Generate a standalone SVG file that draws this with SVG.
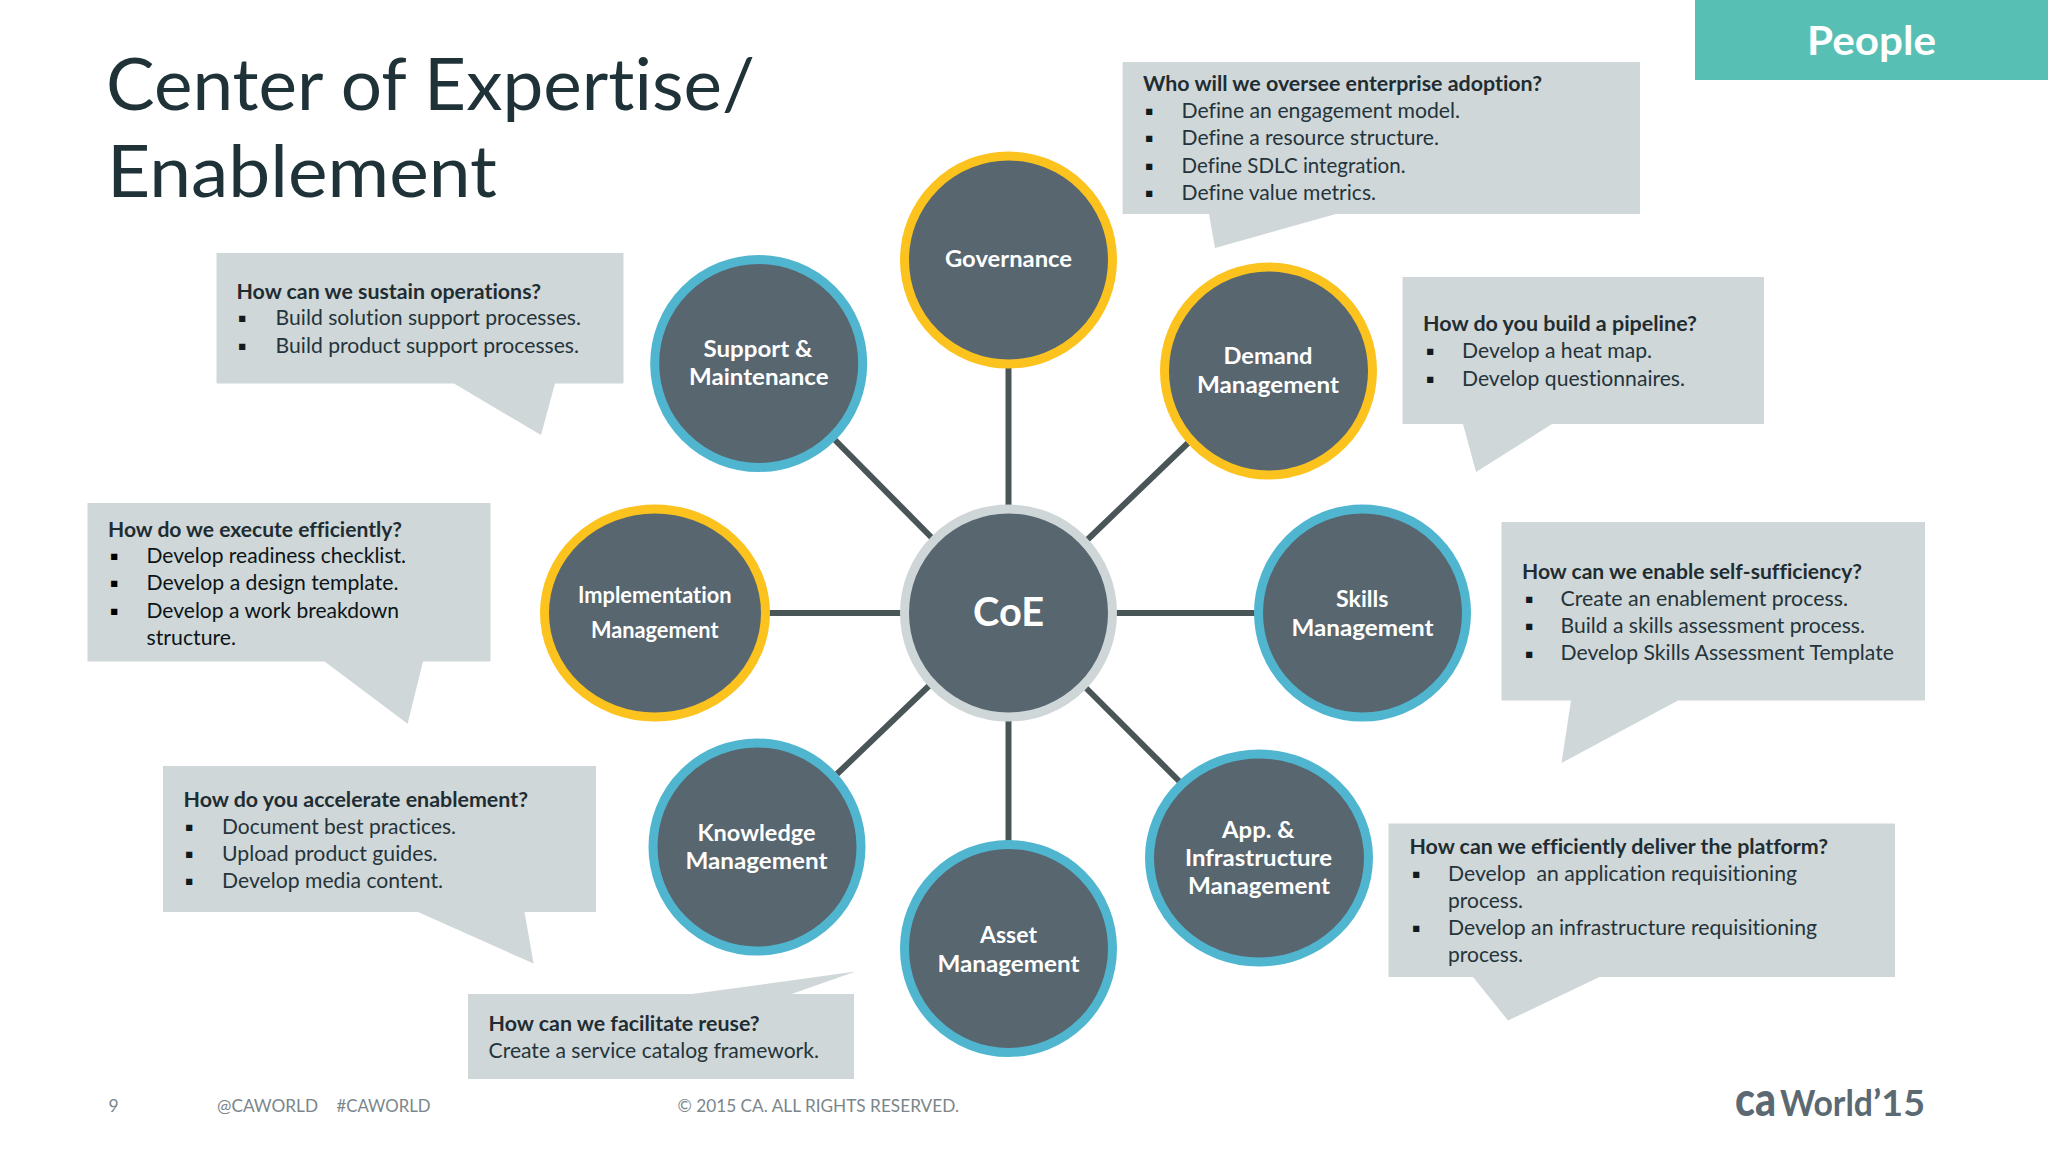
<svg xmlns="http://www.w3.org/2000/svg" width="2048" height="1152" viewBox="0 0 2048 1152">
<style>
text{font-family:"Lato","Open Sans","Liberation Sans",sans-serif;font-variant-ligatures:none}
.c{fill:#cfd7d9}
.h{font-size:20.5px;font-weight:700;fill:#1f2d32;transform:translateY(1px)}
.b{font-size:20.5px;fill:#25343a}
.d{font-size:12.5px;font-family:"DejaVu Sans",sans-serif;fill:#111a1d;transform:translate(2px,-3px)}
.n{fill:#586670;stroke-width:9}
.bl{stroke:#50b6d0}
.ye{stroke:#fcc31e}
.gr{stroke:#ced6d8}
.l{font-size:23px;font-weight:700;fill:#fff;text-anchor:start;transform:translateY(.5px)}
.f{font-size:17.5px;fill:#7b868b}
.k{fill:#5b6a72;font-weight:700}
#connectors line{stroke:#4a5558;stroke-width:6}
</style>
<rect width="2048" height="1152" fill="#fff"/>
<g id="title">
<text x="106" y="110" font-size="71" fill="#1f3238" textLength="649" lengthAdjust="spacingAndGlyphs">Center of Expertise/</text>
<text x="107" y="196.5" font-size="71" fill="#1f3238" textLength="390" lengthAdjust="spacingAndGlyphs">Enablement</text>
</g>
<g id="people">
<rect x="1695" y="0" width="353" height="80" fill="#57bfb3"/>
<text x="1807" y="55" font-size="40" font-weight="700" fill="#fff" textLength="129" lengthAdjust="spacingAndGlyphs">People</text>
</g>
<g id="connectors">
<line x1="1008.5" y1="365" x2="1008.5" y2="507"/>
<line x1="1008.5" y1="719" x2="1008.5" y2="842"/>
<line x1="768" y1="613" x2="906" y2="613"/>
<line x1="1113" y1="613" x2="1256" y2="613"/>
<line x1="835" y1="440" x2="935" y2="541"/>
<line x1="1188" y1="443" x2="1084" y2="543"/>
<line x1="932" y1="683" x2="837" y2="774"/>
<line x1="1083" y1="685" x2="1181" y2="783"/>
</g>
<g id="coe">
<ellipse class="n gr" cx="1008.5" cy="613" rx="104" ry="104"/>
<text x="973" y="625.6" font-size="41" font-weight="700" fill="#fff" textLength="71" lengthAdjust="spacingAndGlyphs">CoE</text>
</g>
<g id="governance">
<ellipse class="n ye" cx="1008.5" cy="260" rx="104" ry="104"/>
<text class="l" x="945" y="266" textLength="127" lengthAdjust="spacingAndGlyphs">Governance</text>
</g>
<g id="demand">
<ellipse class="n ye" cx="1268.5" cy="371" rx="104" ry="104"/>
<text class="l" x="1223.5" y="363.7" textLength="89" lengthAdjust="spacingAndGlyphs">Demand</text>
<text class="l" x="1197" y="392.3" textLength="142" lengthAdjust="spacingAndGlyphs">Management</text>
</g>
<g id="skills">
<ellipse class="n bl" cx="1362.5" cy="613" rx="104" ry="104"/>
<text class="l" x="1336" y="606.5" textLength="52.5" lengthAdjust="spacingAndGlyphs">Skills</text>
<text class="l" x="1291.5" y="635" textLength="142" lengthAdjust="spacingAndGlyphs">Management</text>
</g>
<g id="app">
<ellipse class="n bl" cx="1259" cy="858" rx="109.5" ry="104"/>
<text class="l" x="1222" y="837" textLength="72.5" lengthAdjust="spacingAndGlyphs">App. &amp;</text>
<text class="l" x="1185" y="865.5" textLength="147" lengthAdjust="spacingAndGlyphs">Infrastructure</text>
<text class="l" x="1188" y="893" textLength="142" lengthAdjust="spacingAndGlyphs">Management</text>
</g>
<g id="asset">
<ellipse class="n bl" cx="1008.5" cy="948.5" rx="104" ry="104"/>
<text class="l" x="980" y="942" textLength="57" lengthAdjust="spacingAndGlyphs">Asset</text>
<text class="l" x="937.5" y="971" textLength="142" lengthAdjust="spacingAndGlyphs">Management</text>
</g>
<g id="knowledge">
<ellipse class="n bl" cx="757" cy="847" rx="104" ry="104"/>
<text class="l" x="697.5" y="840" textLength="118" lengthAdjust="spacingAndGlyphs">Knowledge</text>
<text class="l" x="685.5" y="868.4" textLength="142" lengthAdjust="spacingAndGlyphs">Management</text>
</g>
<g id="implementation">
<ellipse class="n ye" cx="655" cy="613" rx="110.5" ry="104"/>
<text class="l" x="578" y="602.5" textLength="153.5" lengthAdjust="spacingAndGlyphs">Implementation</text>
<text class="l" x="591" y="637.5" textLength="127.5" lengthAdjust="spacingAndGlyphs">Management</text>
</g>
<g id="support">
<ellipse class="n bl" cx="758.7" cy="363.5" rx="104" ry="104"/>
<text class="l" x="703.5" y="356" textLength="109" lengthAdjust="spacingAndGlyphs">Support &amp;</text>
<text class="l" x="689" y="384.6" textLength="139.5" lengthAdjust="spacingAndGlyphs">Maintenance</text>
</g>
<g id="callout-sustain">
<polygon class="c" points="216.5,253 623.5,253 623.5,383.5 555,383.5 541,435 454,383.5 216.5,383.5"/>
<text class="h" x="236.5" y="297.6" textLength="304.5" lengthAdjust="spacingAndGlyphs">How can we sustain operations?</text>
<text class="d" x="236" y="325">▪</text><text class="b" x="275.6" y="325" textLength="305.4" lengthAdjust="spacingAndGlyphs">Build solution support processes.</text>
<text class="d" x="236" y="352.7">▪</text><text class="b" x="275.6" y="352.7" textLength="303.4" lengthAdjust="spacingAndGlyphs">Build product support processes.</text>
</g>
<g id="callout-oversee">
<polygon class="c" points="1122.6,62 1640,62 1640,214 1336,214 1215,248 1209,214 1122.6,214"/>
<text class="h" x="1143" y="90.4" textLength="399" lengthAdjust="spacingAndGlyphs">Who will we oversee enterprise adoption?</text>
<text class="d" x="1143" y="118">▪</text><text class="b" x="1181.5" y="118" textLength="278.5" lengthAdjust="spacingAndGlyphs">Define an engagement model.</text>
<text class="d" x="1143" y="145">▪</text><text class="b" x="1181.5" y="145" textLength="257.5" lengthAdjust="spacingAndGlyphs">Define a resource structure.</text>
<text class="d" x="1143" y="172.7">▪</text><text class="b" x="1181.5" y="172.7" textLength="224" lengthAdjust="spacingAndGlyphs">Define SDLC integration.</text>
<text class="d" x="1143" y="200">▪</text><text class="b" x="1181.5" y="200" textLength="194.5" lengthAdjust="spacingAndGlyphs">Define value metrics.</text>
</g>
<g id="callout-pipeline">
<polygon class="c" points="1402.5,277 1764,277 1764,424 1552,424 1476,472 1463,424 1402.5,424"/>
<text class="h" x="1423" y="330" textLength="274" lengthAdjust="spacingAndGlyphs">How do you build a pipeline?</text>
<text class="d" x="1424" y="358">▪</text><text class="b" x="1462" y="358" textLength="190" lengthAdjust="spacingAndGlyphs">Develop a heat map.</text>
<text class="d" x="1424" y="385.7">▪</text><text class="b" x="1462" y="385.7" textLength="223" lengthAdjust="spacingAndGlyphs">Develop questionnaires.</text>
</g>
<g id="callout-self">
<polygon class="c" points="1501.5,522 1925,522 1925,700.5 1678,700.5 1561.5,763 1571,700.5 1501.5,700.5"/>
<text class="h" x="1522" y="578" textLength="340" lengthAdjust="spacingAndGlyphs">How can we enable self-sufficiency?</text>
<text class="d" x="1523" y="606">▪</text><text class="b" x="1560.5" y="605.5" textLength="287.5" lengthAdjust="spacingAndGlyphs">Create an enablement process.</text>
<text class="d" x="1523" y="633">▪</text><text class="b" x="1560.5" y="632.5" textLength="304.5" lengthAdjust="spacingAndGlyphs">Build a skills assessment process.</text>
<text class="d" x="1523" y="660.5">▪</text><text class="b" x="1560.5" y="660" textLength="333.5" lengthAdjust="spacingAndGlyphs">Develop Skills Assessment Template</text>
</g>
<g id="callout-platform">
<polygon class="c" points="1388.5,823.6 1895,823.6 1895,977 1599.5,977 1508,1020.5 1473,977 1388.5,977"/>
<text class="h" x="1409.5" y="853" textLength="418.5" lengthAdjust="spacingAndGlyphs">How can we efficiently deliver the platform?</text>
<text class="d" x="1410" y="881">▪</text><text class="b" x="1448" y="881" textLength="349" lengthAdjust="spacingAndGlyphs" xml:space="preserve">Develop  an application requisitioning</text>
<text class="b" x="1448" y="908" textLength="75" lengthAdjust="spacingAndGlyphs">process.</text>
<text class="d" x="1410" y="935">▪</text><text class="b" x="1448" y="935" textLength="369" lengthAdjust="spacingAndGlyphs">Develop an infrastructure requisitioning</text>
<text class="b" x="1448" y="962" textLength="75" lengthAdjust="spacingAndGlyphs">process.</text>
</g>
<g id="callout-reuse">
<polygon class="c" points="468,994 692,994 855.6,971.6 791.6,994 854,994 854,1079 468,1079"/>
<text class="h" x="488.6" y="1030.4" textLength="271" lengthAdjust="spacingAndGlyphs">How can we facilitate reuse?</text>
<text class="b" x="488.6" y="1057.5" textLength="330.4" lengthAdjust="spacingAndGlyphs">Create a service catalog framework.</text>
</g>
<g id="callout-accelerate">
<polygon class="c" points="163,766 596,766 596,912 524.5,912 533.6,963.6 418,912 163,912"/>
<text class="h" x="183.5" y="806" textLength="344.5" lengthAdjust="spacingAndGlyphs">How do you accelerate enablement?</text>
<text class="d" x="183" y="834">▪</text><text class="b" x="222" y="834" textLength="234" lengthAdjust="spacingAndGlyphs">Document best practices.</text>
<text class="d" x="183" y="861">▪</text><text class="b" x="222" y="860.5" textLength="215.6" lengthAdjust="spacingAndGlyphs">Upload product guides.</text>
<text class="d" x="183" y="888">▪</text><text class="b" x="222" y="888" textLength="221" lengthAdjust="spacingAndGlyphs">Develop media content.</text>
</g>
<g id="callout-execute">
<polygon class="c" points="87.5,503 490.5,503 490.5,661.6 423,661.6 407.6,723.7 324.6,661.6 87.5,661.6"/>
<text class="h" x="108" y="535.6" textLength="294" lengthAdjust="spacingAndGlyphs">How do we execute efficiently?</text>
<text class="d" x="108" y="563" style="fill:#000">▪</text><text class="b" x="146.5" y="562.5" textLength="259.5" lengthAdjust="spacingAndGlyphs" style="fill:#0c1416">Develop readiness checklist.</text>
<text class="d" x="108" y="590" style="fill:#000">▪</text><text class="b" x="146.5" y="590" textLength="252" lengthAdjust="spacingAndGlyphs" style="fill:#0c1416">Develop a design template.</text>
<text class="d" x="108" y="617.5" style="fill:#000">▪</text><text class="b" x="146.5" y="617.5" textLength="252.5" lengthAdjust="spacingAndGlyphs" style="fill:#0c1416">Develop a work breakdown</text>
<text class="b" x="146.5" y="644.7" textLength="89.5" lengthAdjust="spacingAndGlyphs" style="fill:#0c1416">structure.</text>
</g>
<g id="footer">
<text class="f" x="108.5" y="1112.4" font-size="18">9</text>
<text class="f" x="217" y="1112.4" textLength="101" lengthAdjust="spacingAndGlyphs">@CAWORLD</text>
<text class="f" x="336.5" y="1112.4" textLength="94" lengthAdjust="spacingAndGlyphs">#CAWORLD</text>
<text class="f" x="677.5" y="1112.4" textLength="281.5" lengthAdjust="spacingAndGlyphs">© 2015 CA. ALL RIGHTS RESERVED.</text>
</g>
<g id="logo">
<text class="k" x="1735" y="1116" font-size="48" textLength="41" lengthAdjust="spacingAndGlyphs" style="font-weight:900">ca</text>
<text class="k" x="1780" y="1116" font-size="36" textLength="93" lengthAdjust="spacingAndGlyphs">World</text>
<text class="k" x="1873" y="1116" font-size="36" textLength="52" lengthAdjust="spacingAndGlyphs">’15</text>
</g>
</svg>
